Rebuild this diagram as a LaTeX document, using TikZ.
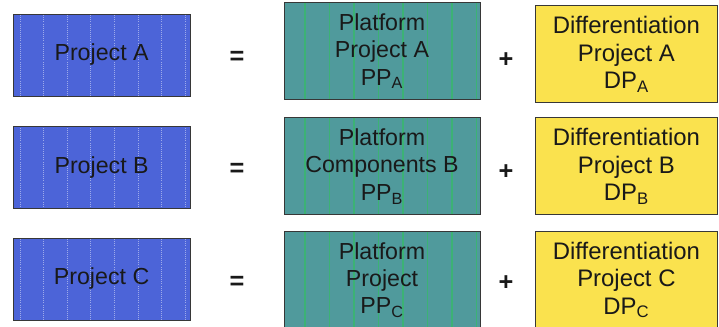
\documentclass[tikz,border=0pt]{standalone}
\usepackage{fontspec}
\setmainfont{Liberation Sans}
\usepackage{tikz}
\usetikzlibrary{positioning}

\definecolor{projblue}{RGB}{76,100,216}
\definecolor{platteal}{RGB}{80,154,156}
\definecolor{diffyellow}{RGB}{250,226,78}
\definecolor{edgegray}{RGB}{55,55,55}
\definecolor{inkgray}{RGB}{25,25,25}

\begin{document}
\begin{tikzpicture}[every node/.style={font=\fontsize{16.5}{19.5}\selectfont,text=inkgray},
  tile/.style={draw=edgegray,line width=0.6pt,align=center,inner sep=0pt},
  projbox/.style={tile,fill=projblue,minimum width=4.425cm,minimum height=2.05cm,
    path picture={\foreach \k in {0,...,7}
      \draw[white!45!projblue,densely dotted,line width=0.5pt]
        ([xshift=0.17cm+\k*0.59cm]path picture bounding box.south west) --
        ([xshift=0.17cm+\k*0.59cm]path picture bounding box.north west);}},
  platbox/.style={tile,fill=platteal,minimum width=4.9cm,minimum height=2.425cm,
    path picture={\foreach \k in {0,...,7}
      \draw[green!35!platteal,line width=0.9pt,opacity=0.7]
        ([xshift=0.525cm+\k*0.6125cm]path picture bounding box.south west) --
        ([xshift=0.525cm+\k*0.6125cm]path picture bounding box.north west);}},
  diffbox/.style={tile,fill=diffyellow,minimum width=4.55cm,minimum height=2.425cm,
    font=\fontsize{17}{19.5}\selectfont},
  sign/.style={font=\fontsize{18}{20}\selectfont\bfseries}]
\useasboundingbox (0,0) rectangle (17.975,-8.175);

% row A
\node[projbox] (projA) at (2.54,-1.375) {Project A};
\node[sign] (eqA) at (5.925,-1.45) {=};
\node[platbox] (platA) at (9.55,-1.28) {Platform\\Project A\\PP\textsubscript{A}};
\node[sign] (plusA) at (12.65,-1.5) {+};
\node[diffbox] (diffA) at (15.66,-1.36) {Differentiation\\Project A\\DP\textsubscript{A}};

% row B
\node[projbox] (projB) at (2.54,-4.19) {Project B};
\node[sign] (eqB) at (5.925,-4.25) {=};
\node[platbox] (platB) at (9.55,-4.16) {Platform\\Components B\\PP\textsubscript{B}};
\node[sign] (plusB) at (12.65,-4.3) {+};
\node[diffbox] (diffB) at (15.66,-4.16) {Differentiation\\Project B\\DP\textsubscript{B}};

% row C
\node[projbox] (projC) at (2.54,-6.975) {Project C};
\node[sign] (eqC) at (5.925,-7.07) {=};
\node[platbox] (platC) at (9.55,-7.0) {Platform\\Project\\PP\textsubscript{C}};
\node[sign] (plusC) at (12.65,-7.07) {+};
\node[diffbox] (diffC) at (15.66,-7.0) {Differentiation\\Project C\\DP\textsubscript{C}};
\end{tikzpicture}
\end{document}
